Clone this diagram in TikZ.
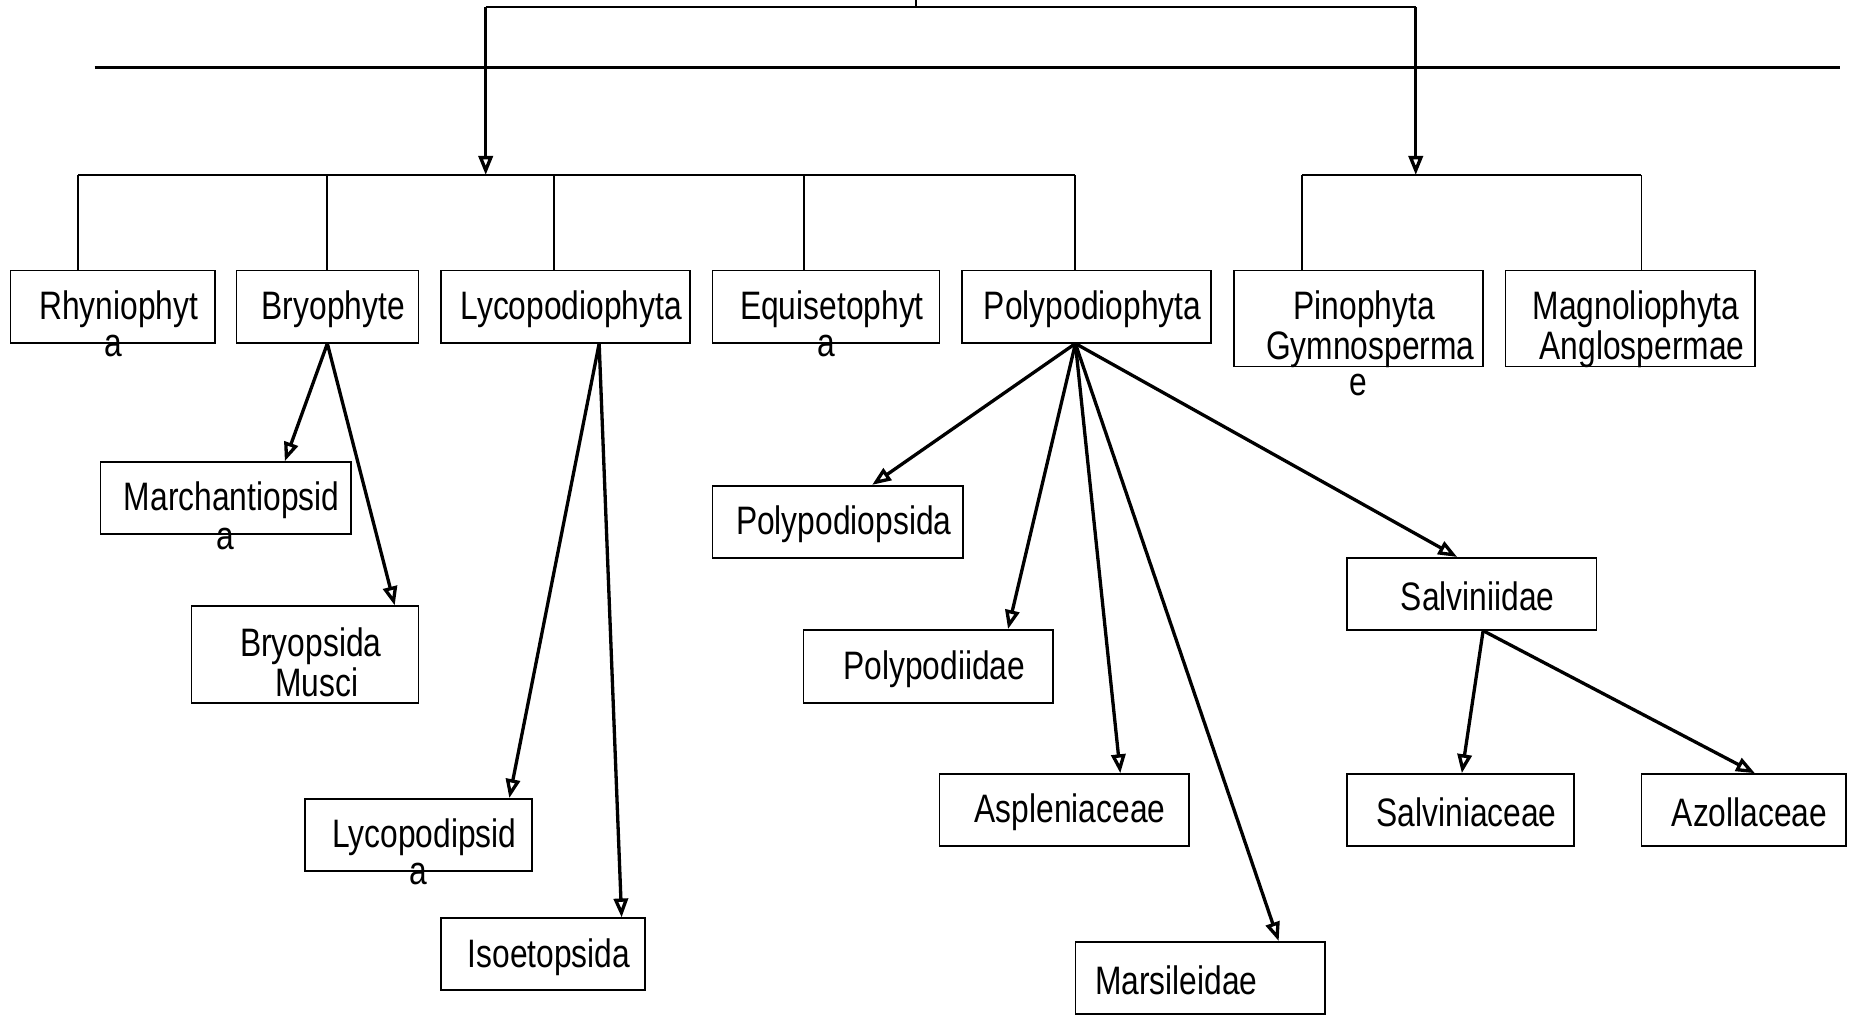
\documentclass[tikz,border=0pt]{standalone}
\usepackage{fontspec}
\setmainfont{Liberation Sans}[FakeStretch=0.8]
\usetikzlibrary{arrows.meta,calc}

\tikzset{
	taxon/.style={draw, line width=0.7pt, minimum height=30.5pt, inner sep=2pt, align=center,
		execute at begin node={\rule{0pt}{14.3pt}\hspace*{5pt}}},
	twoline/.style={inner ysep=0pt, minimum height=#1},
	spill/.style 2 args={label={[anchor=center, yshift=#2]below:#1}},
	bar/.style={line width=0.8pt},
	link/.style={line width=1.4pt, -{Triangle[open, length=8pt, width=6pt]}}
}

\begin{document}
\begin{tikzpicture}[x=0.5pt, y=-0.5pt, font=\fontsize{16.8}{17}\selectfont]
			%%%%% START %%%%%
			\useasboundingbox (0,0) rectangle (1568,860);
			
			\coordinate (stem) at (775,0);
			\coordinate (topL) at (411,6);
			\coordinate (topR) at (1198,6);
			\coordinate (hubL) at (411,148);
			\coordinate (hubR) at (1198,148);
			
			\draw[bar] (topL) -- (topR);
			\draw[bar] (stem) -- (stem |- topL);
			\draw[link] (topL) -- (hubL);
			\draw[link] (topR) -- (hubR);
			\draw[line width=1.2pt] (80,57) -- (1557,57);
			
			\node[taxon, minimum width=86.5pt, spill={a}{-1pt}] (rhy) at (95.5,259.5) {Rhyniophyt};
			\node[taxon, minimum width=77pt] (bry) at (277,259.5) {Bryophyte};
			\node[taxon, minimum width=105.5pt] (lyc) at (478.5,259.5) {Lycopodiophyta};
			\node[taxon, minimum width=96pt, spill={a}{-1pt}] (equ) at (699,259.5) {Equisetophyt};
			\node[taxon, minimum width=105.5pt] (pol) at (919.5,259.5) {Polypodiophyta};
			\node[taxon, twoline=40.5pt, minimum width=105.5pt, spill={e}{-7.5pt}] (pin) at (1149.5,269.5) {\rule{0pt}{17.7pt}Pinophyta\\\hspace*{5pt}\smash{Gymnosperma}};
			\node[taxon, twoline=40.5pt, minimum width=105.5pt] (mag) at (1379.5,269.5) {\rule{0pt}{17.7pt}Magnoliophyta\\\hspace*{5pt}\smash{Anglospermae}};
			
			\node[taxon, minimum width=106pt, spill={a}{-1.5pt}] (mar) at (191,421.5) {Marchantiopsid};
			\node[taxon, twoline=41pt, minimum width=96pt] (bpm) at (258,554) {\rule{0pt}{18.5pt}Bryopsida\\\hspace*{5pt}\smash{Musci}};
			\node[taxon, minimum width=96pt, spill={a}{-1pt}] (lcp) at (354,706.5) {Lycopodipsid};
			\node[taxon, minimum width=86.5pt] (iso) at (459.5,807.5) {Isoetopsida};
			
			\node[taxon, minimum width=106pt] (pps) at (709,441.5) {Polypodiopsida};
			\node[taxon, minimum width=105.5pt, minimum height=31pt] (ppd) at (785.5,564) {Polypodiidae};
			\node[taxon, minimum width=105.5pt] (asp) at (900.5,685.5) {Aspleniaceae};
			\node[taxon, minimum width=105.5pt] (msl) at (1015.5,827.5) {Marsileidae\hspace*{25pt}};
			\node[taxon, minimum width=105.5pt] (sal) at (1245.5,502.5) {Salviniidae};
			\node[taxon, minimum width=96pt] (svn) at (1236,685.5) {Salviniaceae};
			\node[taxon, minimum width=86.5pt] (azo) at (1475.5,685.5) {Azollaceae};
			
			\draw[bar] ([xshift=-14.75pt]rhy.north |- hubL) -- ([xshift=-4.75pt]pol.north |- hubL);
			\foreach \n/\dx in {rhy/-14.75pt, bry/0pt, lyc/-4.75pt, equ/-9.5pt, pol/-4.75pt}
				\draw[bar] ([xshift=\dx]\n.north) -- ([xshift=\dx]\n.north |- hubL);
			
			\draw[bar] ([xshift=-23.75pt]pin.north |- hubR) -- ([xshift=4.75pt]mag.north |- hubR);
			\foreach \n/\dx in {pin/-23.75pt, mag/4.75pt}
				\draw[bar] ([xshift=\dx]\n.north) -- ([xshift=\dx]\n.north |- hubR);
			
			\draw[link] (bry.south) -- ([xshift=25pt]mar.north);
			\draw[link] (bry.south) -- ([xshift=38pt]bpm.north);
			
			\draw[link] ([xshift=14.25pt]lyc.south) -- ([xshift=38.5pt]lcp.north);
			\draw[link] ([xshift=14.25pt]lyc.south) -- ([xshift=33.25pt]iso.north);
			
			\foreach \n/\dx in {pps/14.5pt, ppd/33.75pt, asp/23.75pt, msl/33.25pt, sal/-6.25pt}
				\draw[link] ([xshift=-4.75pt]pol.south) -- ([xshift=\dx]\n.north);
			
			\draw[link] ([xshift=4.75pt]sal.south) -- ([xshift=0.5pt]svn.north);
			\draw[link] ([xshift=4.75pt]sal.south) -- ([xshift=4.75pt]azo.north);
			
			%%%%% END %%%%%
\end{tikzpicture}
\end{document}
